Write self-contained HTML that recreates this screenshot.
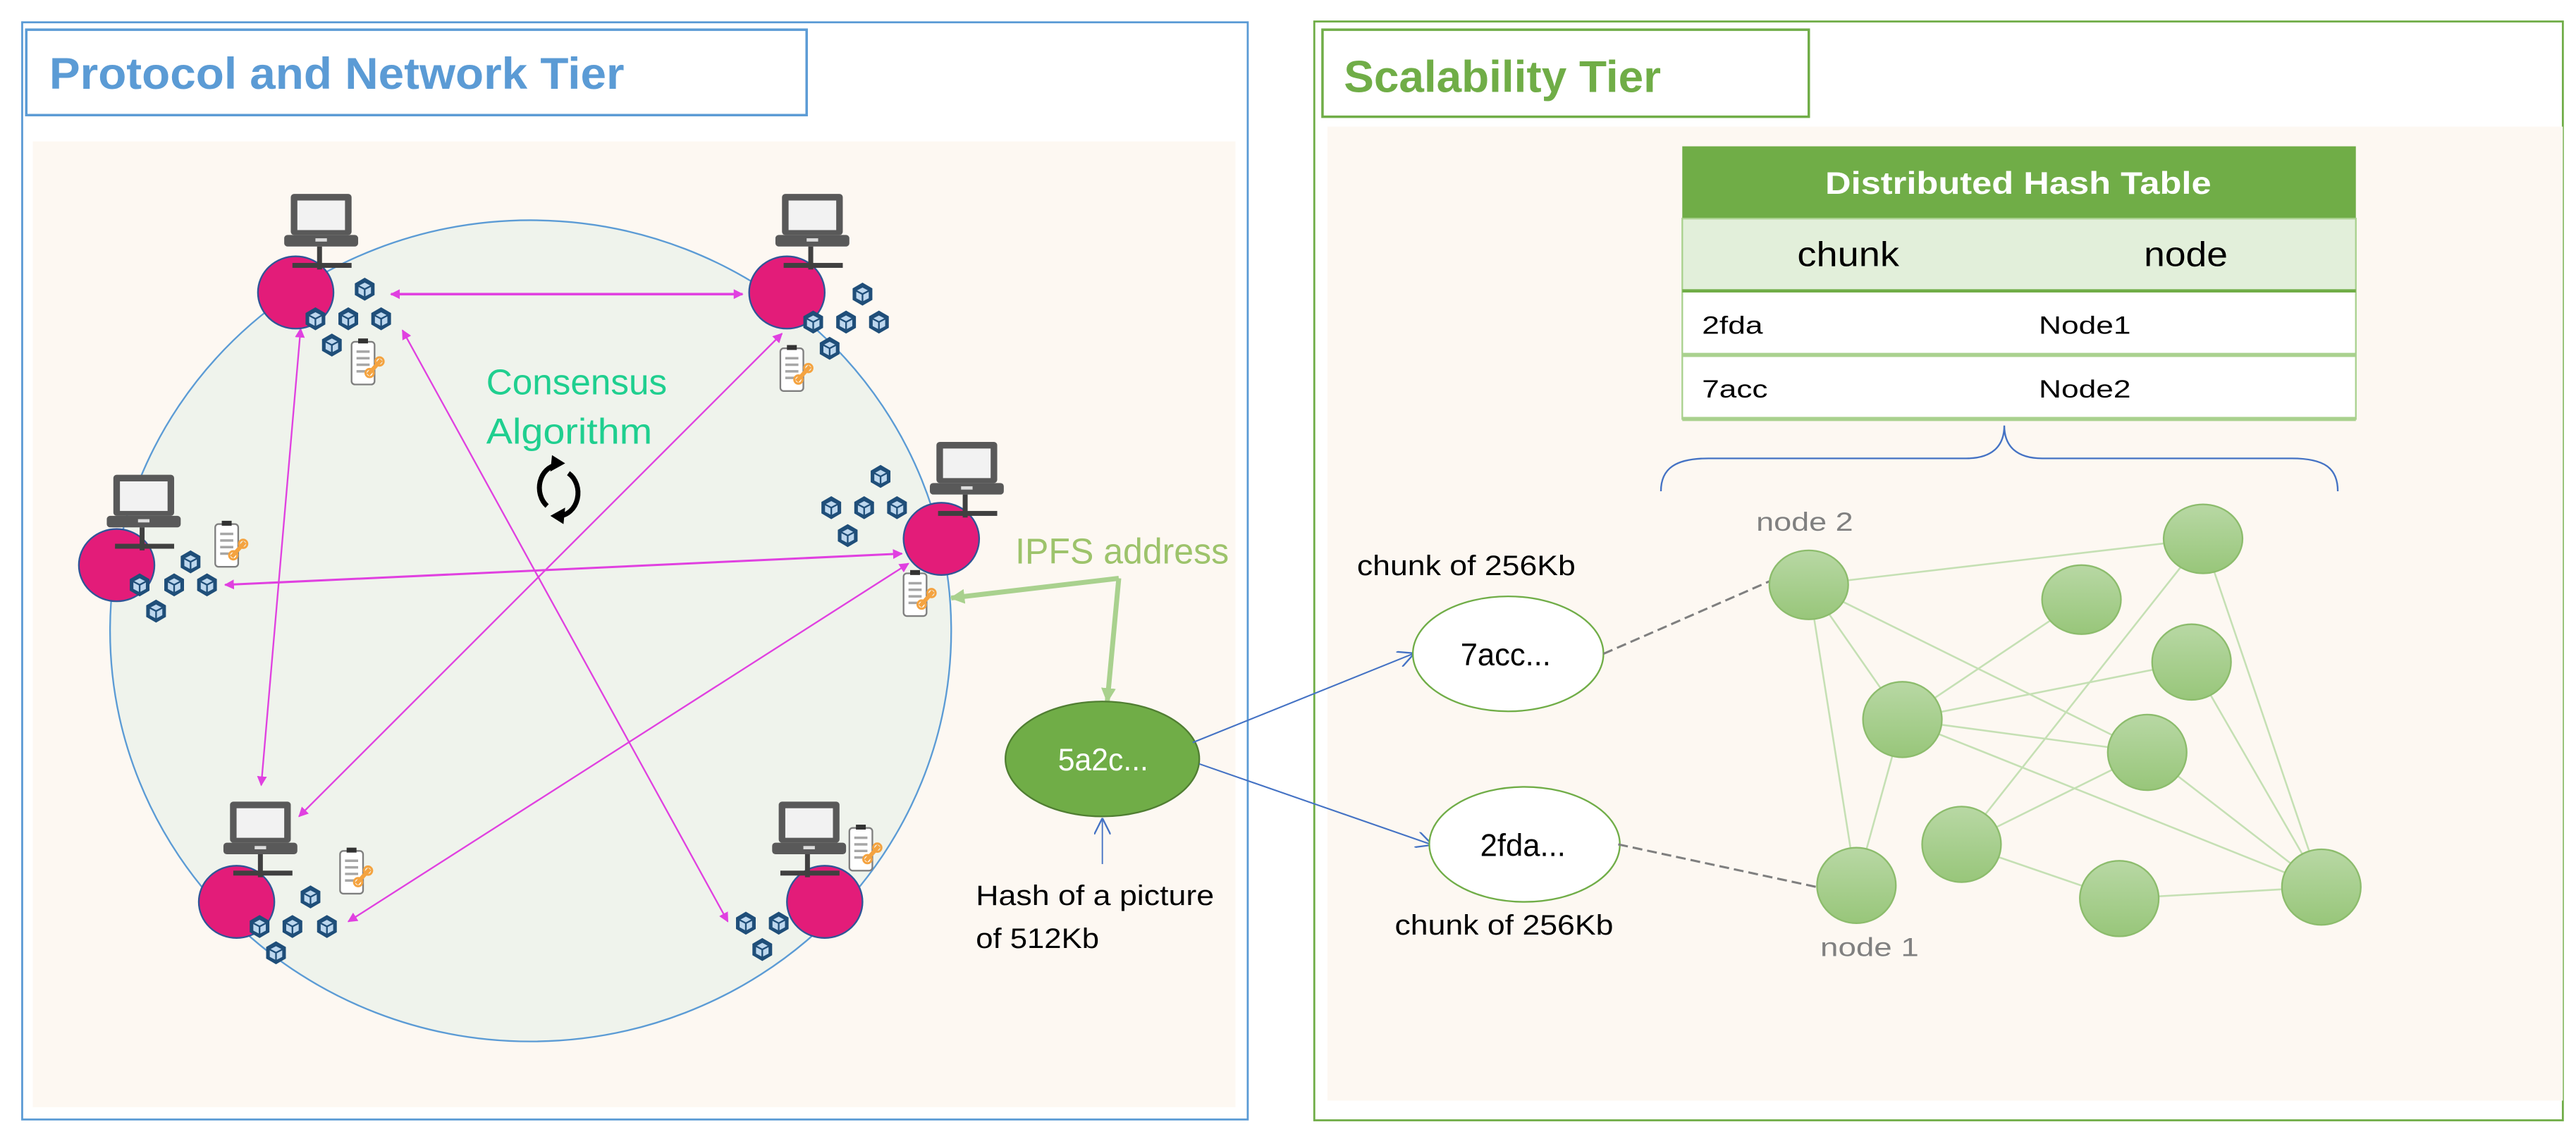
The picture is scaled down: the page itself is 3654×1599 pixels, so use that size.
<!DOCTYPE html>
<html><head><meta charset="utf-8"><style>
html,body{margin:0;padding:0;background:#fff}
svg{display:block}
text{font-family:"Liberation Sans Narrow","Liberation Sans",sans-serif}
</style></head><body>
<svg width="3654" height="1599" viewBox="0 0 1568 686" xmlns="http://www.w3.org/2000/svg">
<defs>
<marker id="mg" viewBox="0 0 10 10" refX="9" refY="5" markerWidth="6" markerHeight="6" orient="auto-start-reverse" markerUnits="userSpaceOnUse"><path d="M0,0 L10,5 L0,10 z" fill="#e040e0"/></marker>
<marker id="mgn" viewBox="0 0 10 10" refX="9" refY="5" markerWidth="9" markerHeight="9" orient="auto-start-reverse" markerUnits="userSpaceOnUse"><path d="M0,0 L10,5 L0,10 z" fill="#a9d18e"/></marker>
<marker id="mb" viewBox="0 0 10 10" refX="9" refY="5" markerWidth="10" markerHeight="10" orient="auto" markerUnits="userSpaceOnUse"><path d="M0,0 L10,5 L0,10" fill="none" stroke="#4472c4" stroke-width="1"/></marker>
<linearGradient id="gn" x1="0" y1="0" x2="0" y2="1"><stop offset="0" stop-color="#b8d8a4"/><stop offset="1" stop-color="#98c67a"/></linearGradient>
<g id="cube"><path d="M0,-7 L6,-3.5 L6,3.5 L0,7 L-6,3.5 L-6,-3.5 z" fill="#1f4e79"/><path d="M-3.8,-2 L0,-4 L3.8,-2 L3.8,2.5 L0,4.5 L-3.8,2.5 z" fill="#bdd7ee"/><path d="M0,0 L0,4.5 M-3.8,-2 L0,0 L3.8,-2" stroke="#1f4e79" stroke-width="1" fill="none"/></g>
<g id="laptop"><rect x="4" y="0" width="37" height="25" rx="2" fill="#595959"/><rect x="8" y="4" width="29" height="18" fill="#f2f2f2"/><rect x="0" y="25" width="45" height="7" rx="2" fill="#595959"/><rect x="19" y="27" width="7" height="2" fill="#ddd"/></g>
<g id="clip"><rect x="2" y="2" width="14" height="26" rx="2" fill="#fff" stroke="#7f7f7f" stroke-width="1"/><rect x="6" y="0" width="6" height="3" fill="#333"/><path d="M5,8h8M5,12h8M5,16h8M5,20h6" stroke="#a6a6a6" stroke-width="1.5"/><path d="M12,22 l8,-9" stroke="#f4a340" stroke-width="2.5" fill="none"/><circle cx="13" cy="21" r="2.5" fill="none" stroke="#f4a340" stroke-width="1.3"/><circle cx="19" cy="14" r="2.5" fill="none" stroke="#f4a340" stroke-width="1.3"/></g>
</defs>

<!-- LEFT PANEL -->
<rect x="13.5" y="13.5" width="746" height="668" fill="#fff" stroke="#5b9bd5" stroke-width="1.2"/>
<rect x="20" y="86" width="732" height="588" fill="#fdf8f2"/>
<rect x="16" y="18" width="475" height="52" fill="#fff" stroke="#5b9bd5" stroke-width="1.5"/>
<text x="30" y="54" font-size="27" font-weight="bold" fill="#5b9bd5" textLength="350" lengthAdjust="spacingAndGlyphs">Protocol and Network Tier</text>

<ellipse cx="323" cy="384" rx="256" ry="250" fill="#eff3ec" stroke="#5b9bd5" stroke-width="1"/>

<g stroke="#e040e0" stroke-width="1" fill="none" marker-start="url(#mg)" marker-end="url(#mg)">
<line x1="238" y1="179" x2="452" y2="179" stroke-width="1.6"/>
<line x1="183" y1="200" x2="159" y2="478"/>
<line x1="245" y1="201" x2="443" y2="561"/>
<line x1="476" y1="203" x2="182" y2="497"/>
<line x1="549" y1="337" x2="137" y2="356" stroke-width="1.3"/>
<line x1="553" y1="343" x2="212" y2="561"/>
</g>

<g>
<use href="#laptop" x="173" y="118"/><use href="#laptop" x="472" y="118"/><use href="#laptop" x="566" y="269"/>
<use href="#laptop" x="65" y="289"/><use href="#laptop" x="136" y="488"/><use href="#laptop" x="470" y="488"/>
</g>
<g fill="#e31c79" stroke="#2f5597" stroke-width="1">
<ellipse cx="180" cy="178" rx="23" ry="22"/><ellipse cx="479" cy="178" rx="23" ry="22"/>
<ellipse cx="573" cy="328" rx="23" ry="22"/><ellipse cx="71" cy="344" rx="23" ry="22"/>
<ellipse cx="144" cy="549" rx="23" ry="22"/><ellipse cx="502" cy="549" rx="23" ry="22"/>
</g>
<g fill="#404040">
<rect x="193" y="150" width="3" height="14"/><rect x="178" y="160" width="36" height="3"/>
<rect x="492" y="150" width="3" height="14"/><rect x="477" y="160" width="36" height="3"/>
<rect x="586" y="301" width="3" height="14"/><rect x="571" y="311" width="36" height="3"/>
<rect x="85" y="321" width="3" height="14"/><rect x="70" y="331" width="36" height="3"/>
<rect x="157" y="520" width="3" height="14"/><rect x="142" y="530" width="36" height="3"/>
<rect x="490" y="520" width="3" height="14"/><rect x="475" y="530" width="36" height="3"/>
</g>
<g>
<use href="#cube" x="222" y="176"/><use href="#cube" x="192" y="194"/><use href="#cube" x="212" y="194"/><use href="#cube" x="232" y="194"/><use href="#cube" x="202" y="210"/>
<use href="#cube" x="525" y="179"/><use href="#cube" x="495" y="196"/><use href="#cube" x="515" y="196"/><use href="#cube" x="535" y="196"/><use href="#cube" x="505" y="212"/>
<use href="#cube" x="536" y="290"/><use href="#cube" x="506" y="309"/><use href="#cube" x="526" y="309"/><use href="#cube" x="546" y="309"/><use href="#cube" x="516" y="326"/>
<use href="#cube" x="116" y="342"/><use href="#cube" x="85" y="356"/><use href="#cube" x="106" y="356"/><use href="#cube" x="126" y="356"/><use href="#cube" x="95" y="372"/>
<use href="#cube" x="189" y="546"/><use href="#cube" x="158" y="564"/><use href="#cube" x="178" y="564"/><use href="#cube" x="199" y="564"/><use href="#cube" x="168" y="580"/>
<use href="#cube" x="454" y="562"/><use href="#cube" x="474" y="562"/><use href="#cube" x="464" y="578"/>
</g>
<g>
<use href="#clip" x="212" y="206"/><use href="#clip" x="473" y="210"/><use href="#clip" x="129" y="317"/>
<use href="#clip" x="548" y="347"/><use href="#clip" x="205" y="516"/><use href="#clip" x="515" y="502"/>
</g>

<text x="296" y="240" font-size="22" fill="#1fcf8f" textLength="110" lengthAdjust="spacingAndGlyphs">Consensus</text>
<text x="296" y="270" font-size="22" fill="#1fcf8f" textLength="101" lengthAdjust="spacingAndGlyphs">Algorithm</text>
<g fill="none" stroke="#000" stroke-width="3">
<path d="M333,308 A12,14 0 0 1 339,283"/><path d="M346,288 A12,14 0 0 1 340,314"/>
</g>
<path d="M336,277 l8,5 l-9,5 z" fill="#000"/><path d="M343,319 l-8,-5 l9,-5 z" fill="#000"/>

<text x="618" y="343" font-size="22" fill="#9dc36b" textLength="130" lengthAdjust="spacingAndGlyphs">IPFS address</text>

<polyline points="681,352 579,364" fill="none" stroke="#a9d18e" stroke-width="3" marker-end="url(#mgn)"/>
<polyline points="681,352 674,427" fill="none" stroke="#a9d18e" stroke-width="3" marker-end="url(#mgn)"/>

<ellipse cx="671" cy="462" rx="59" ry="35" fill="#70ad47" stroke="#507e32" stroke-width="1"/>
<text x="644" y="469" font-size="19" fill="#fff" textLength="55" lengthAdjust="spacingAndGlyphs">5a2c...</text>
<line x1="671" y1="526" x2="671" y2="499" stroke="#4472c4" stroke-width="0.8" marker-end="url(#mb)"/>
<text x="594" y="551" font-size="17" fill="#000" textLength="145" lengthAdjust="spacingAndGlyphs">Hash of a picture</text>
<text x="594" y="577" font-size="17" fill="#000" textLength="75" lengthAdjust="spacingAndGlyphs">of 512Kb</text>

<!-- RIGHT PANEL -->
<rect x="800" y="13" width="760" height="669" fill="none" stroke="#70ad47" stroke-width="1.2"/>
<rect x="808" y="77" width="752" height="593" fill="#fdf8f2"/>
<rect x="805" y="18" width="296" height="53" fill="#fff" stroke="#70ad47" stroke-width="1.5"/>
<text x="818" y="56" font-size="27" font-weight="bold" fill="#70ad47" textLength="193" lengthAdjust="spacingAndGlyphs">Scalability Tier</text>

<line x1="726" y1="452" x2="860" y2="398" stroke="#4472c4" stroke-width="0.9" marker-end="url(#mb)"/>
<line x1="730" y1="465" x2="871" y2="514" stroke="#4472c4" stroke-width="0.9" marker-end="url(#mb)"/>

<rect x="1024" y="89" width="410" height="44" fill="#70ad47"/>
<text x="1111" y="118" font-size="19" font-weight="bold" fill="#fff" textLength="235" lengthAdjust="spacingAndGlyphs">Distributed Hash Table</text>
<rect x="1024" y="133" width="410" height="44" fill="#e2efda"/>
<text x="1094" y="162" font-size="21" fill="#000" textLength="62" lengthAdjust="spacingAndGlyphs">chunk</text>
<text x="1305" y="162" font-size="21" fill="#000" textLength="51" lengthAdjust="spacingAndGlyphs">node</text>
<rect x="1024" y="177" width="410" height="78" fill="#fff"/>
<rect x="1024" y="133" width="410" height="122" fill="none" stroke="#a9d18e" stroke-width="1"/>
<line x1="1024" y1="177" x2="1434" y2="177" stroke="#70ad47" stroke-width="2"/>
<line x1="1024" y1="216" x2="1434" y2="216" stroke="#a9d18e" stroke-width="2.5"/>
<line x1="1024" y1="255" x2="1434" y2="255" stroke="#a9d18e" stroke-width="2.5"/>
<text x="1036" y="203" font-size="15" fill="#000" textLength="37" lengthAdjust="spacingAndGlyphs">2fda</text>
<text x="1241" y="203" font-size="15" fill="#000" textLength="56" lengthAdjust="spacingAndGlyphs">Node1</text>
<text x="1036" y="242" font-size="15" fill="#000" textLength="40" lengthAdjust="spacingAndGlyphs">7acc</text>
<text x="1241" y="242" font-size="15" fill="#000" textLength="56" lengthAdjust="spacingAndGlyphs">Node2</text>

<path d="M1011,299 C1011,285 1020,279 1040,279 L1197,279 C1212,279 1220,272 1220,259 C1220,272 1228,279 1243,279 L1395,279 C1415,279 1423,285 1423,299" fill="none" stroke="#4472c4" stroke-width="1"/>

<text x="1069" y="323" font-size="16" fill="#808080" textLength="59" lengthAdjust="spacingAndGlyphs">node 2</text>
<text x="826" y="350" font-size="17" fill="#000" textLength="133" lengthAdjust="spacingAndGlyphs">chunk of 256Kb</text>
<text x="849" y="569" font-size="17" fill="#000" textLength="133" lengthAdjust="spacingAndGlyphs">chunk of 256Kb</text>
<text x="1108" y="582" font-size="16" fill="#808080" textLength="60" lengthAdjust="spacingAndGlyphs">node 1</text>

<ellipse cx="918" cy="398" rx="58" ry="35" fill="#fff" stroke="#70ad47" stroke-width="1"/>
<text x="889" y="405" font-size="19" fill="#000" textLength="55" lengthAdjust="spacingAndGlyphs">7acc...</text>
<ellipse cx="928" cy="514" rx="58" ry="35" fill="#fff" stroke="#70ad47" stroke-width="1"/>
<text x="901" y="521" font-size="19" fill="#000" textLength="52" lengthAdjust="spacingAndGlyphs">2fda...</text>
<line x1="976" y1="398" x2="1079" y2="353" stroke="#7f7f7f" stroke-width="1.3" stroke-dasharray="6,3"/>
<line x1="985" y1="514" x2="1106" y2="540" stroke="#7f7f7f" stroke-width="1.3" stroke-dasharray="6,3"/>

<g stroke="#c5e0b4" stroke-width="1.1">
<line x1="1101" y1="356" x2="1341" y2="328"/>
<line x1="1101" y1="356" x2="1130" y2="539"/>
<line x1="1101" y1="356" x2="1158" y2="438"/>
<line x1="1101" y1="356" x2="1307" y2="458"/>
<line x1="1341" y1="328" x2="1194" y2="514"/>
<line x1="1341" y1="328" x2="1413" y2="540"/>
<line x1="1267" y1="365" x2="1158" y2="438"/>
<line x1="1158" y1="438" x2="1334" y2="403"/>
<line x1="1158" y1="438" x2="1307" y2="458"/>
<line x1="1158" y1="438" x2="1413" y2="540"/>
<line x1="1307" y1="458" x2="1413" y2="540"/>
<line x1="1158" y1="438" x2="1130" y2="539"/>
<line x1="1307" y1="458" x2="1194" y2="514"/>
<line x1="1194" y1="514" x2="1290" y2="547"/>
<line x1="1290" y1="547" x2="1413" y2="540"/>
<line x1="1334" y1="403" x2="1413" y2="540"/>
</g>
<g fill="url(#gn)" stroke="#8cbc6c" stroke-width="1">
<ellipse cx="1101" cy="356" rx="24" ry="21"/>
<ellipse cx="1341" cy="328" rx="24" ry="21"/>
<ellipse cx="1267" cy="365" rx="24" ry="21"/>
<ellipse cx="1334" cy="403" rx="24" ry="23"/>
<ellipse cx="1158" cy="438" rx="24" ry="23"/>
<ellipse cx="1307" cy="458" rx="24" ry="23"/>
<ellipse cx="1194" cy="514" rx="24" ry="23"/>
<ellipse cx="1130" cy="539" rx="24" ry="23"/>
<ellipse cx="1290" cy="547" rx="24" ry="23"/>
<ellipse cx="1413" cy="540" rx="24" ry="23"/>
</g>
</svg>
</body></html>
